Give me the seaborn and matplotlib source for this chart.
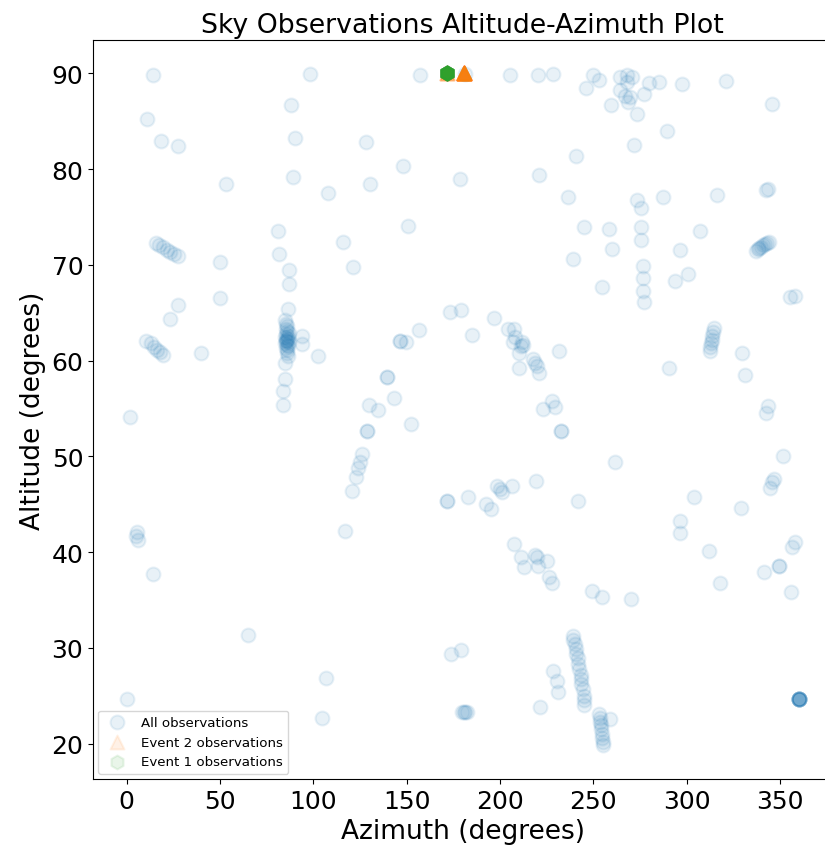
import numpy as np
import pandas as pd
import seaborn as sns
import matplotlib
matplotlib.use("Agg")
import matplotlib.pyplot as plt

# ---- observation positions (azimuth, altitude in degrees) ----
azimuth = [
    13.9, 98.4, 157.3, 181.4, 205.5, 220.4, 228.5,
    249.9, 253.1, 246.1,
    264.5, 268.3, 270.9, 268.3, 264.5,
    279.8, 285.2, 297.5, 277.2, 267.0, 269.7, 268.6, 259.5, 273.4, 289.5, 271.8,
    321.0, 345.6,
    88.3, 10.7, 90.4, 18.7, 27.3, 128.4, 240.8,
    53.0, 89.4, 108.1, 130.5, 148.2, 178.7, 221.0, 236.5, 273.4, 275.5, 287.3, 316.2, 342.4, 343.5,
    307.1,
    337.0, 338.0, 339.0, 340.0, 341.0, 342.0, 343.0, 344.0,
    300.5,
    312.3, 312.6, 313.0, 313.4, 313.8, 314.3, 314.8,
    329.6, 355.3, 358.0,
    331.2, 342.4, 343.5, 351.5, 344.6, 345.6, 346.7, 329.0, 358.0, 356.3, 311.9, 317.8, 341.4, 349.4, 349.4, 355.8,
    360.0, 360.0, 360.0, 360.0, 360.0, 360.0, 360.0, 360.0, 360.0,
    258.4, 260.0, 275.5, 275.5, 296.4, 293.7, 276.6, 276.6, 276.6, 277.2, 254.7, 245.0, 239.1, 290.5, 231.4,
    196.9, 204.4, 207.6, 208.1, 207.1, 211.9, 212.4, 211.3, 210.3, 217.8, 218.8, 219.9, 221.0, 210.3,
    227.9, 229.5, 223.1, 232.7, 232.7,
    198.5, 200.1, 201.2, 206.5, 192.6, 195.3, 241.8, 219.4, 207.6, 211.3, 212.9, 218.8, 220.0, 220.4,
    225.3, 226.3, 227.9, 261.6, 249.3, 254.7, 270.2, 303.9, 296.4, 296.4,
    238.9, 239.4, 240.0, 240.5, 241.0, 241.6, 242.1, 242.6, 243.2, 243.7, 243.7, 244.3, 244.8, 245.3, 245.3,
    253.1, 253.6, 253.6, 254.1, 254.1, 254.7, 254.7, 255.2, 255.2,
    259.0, 228.5, 230.6, 231.1, 221.5,
    179.5, 180.9, 182.5, 181.5, 173.9, 179.2, 0.0, 104.9, 107.0, 65.3, 13.9, 4.8, 5.9, 5.4, 2.1,
    10.2, 12.9, 14.5, 16.1, 17.7, 19.3,
    27.3, 23.5,
    15.5, 17.5, 19.5, 21.5, 23.5, 25.5, 27.5,
    40.1, 50.3, 49.8,
    81.3, 81.9, 87.2, 87.2, 86.7,
    85.0, 85.6, 86.2, 85.2, 86.0, 86.8, 85.4, 86.3, 85.0, 85.8, 86.6,
    85.3, 86.1, 85.6, 86.9, 85.1, 85.9, 86.5, 85.4, 86.2, 85.7, 86.4,
    94.2, 94.2, 102.7, 85.1, 85.1, 84.0, 84.0,
    116.1, 121.5, 150.9,
    146.6, 146.6, 149.8, 156.8, 173.4, 179.2, 185.1, 139.6, 139.6, 143.4, 152.5, 130.0, 134.8,
    128.9, 128.9, 126.3, 125.2, 124.1, 123.1, 120.9, 117.2, 171.7, 171.7, 183.0,
]
altitude = [
    89.8, 89.9, 89.8, 89.9, 89.8, 89.8, 89.9,
    89.8, 89.3, 88.5,
    89.6, 89.8, 89.6, 89.1, 88.3,
    89.0, 89.1, 88.9, 87.9, 87.6, 87.5, 87.0, 86.7, 85.8, 84.0, 82.5,
    89.2, 86.8,
    86.7, 85.2, 83.3, 82.9, 82.4, 82.8, 81.4,
    78.4, 79.2, 77.5, 78.4, 80.3, 79.0, 79.4, 77.1, 76.8, 75.9, 77.1, 77.3, 77.8, 77.9,
    73.5,
    71.5, 71.7, 71.8, 71.9, 72.1, 72.2, 72.3, 72.4,
    69.0,
    61.0, 61.4, 61.8, 62.2, 62.6, 63.0, 63.4,
    60.8, 66.7, 66.8,
    58.5, 54.5, 55.3, 50.0, 46.7, 47.3, 47.6, 44.6, 41.1, 40.5, 40.1, 36.8, 37.9, 38.6, 38.6, 35.8,
    24.7, 24.7, 24.7, 24.7, 24.7, 24.7, 24.7, 24.7, 24.7,
    73.8, 71.7, 72.6, 74.0, 71.6, 68.3, 69.9, 68.6, 67.3, 66.1, 67.7, 74.0, 70.6, 59.2, 61.0,
    64.5, 63.3, 63.3, 62.5, 61.9, 61.9, 61.6, 61.5, 60.8, 60.2, 59.8, 59.4, 58.75, 59.2,
    55.8, 55.2, 54.9, 52.6, 52.6,
    46.9, 46.6, 46.3, 46.9, 45.0, 44.5, 45.3, 47.4, 40.8, 39.5, 38.4, 39.7, 39.5, 38.5,
    39.1, 37.4, 36.8, 49.4, 35.9, 35.3, 35.1, 45.8, 43.3, 42.0,
    31.2, 30.8, 30.4, 29.9, 29.4, 28.9, 28.3, 27.8, 27.2, 26.7, 26.2, 25.7, 25.0, 24.5, 24.0,
    23.1, 22.7, 22.3, 21.9, 21.5, 21.0, 20.6, 20.2, 19.8,
    22.6, 27.6, 26.5, 25.4, 23.8,
    23.3, 23.3, 23.3, 23.3, 29.4, 29.8, 24.7, 22.7, 26.9, 31.3, 37.7, 41.7, 41.25, 42.1, 54.1,
    62.0, 61.8, 61.4, 61.1, 60.9, 60.6,
    65.8, 64.4,
    72.3, 72.1, 71.9, 71.6, 71.4, 71.1, 70.9,
    60.8, 70.3, 66.5,
    73.5, 71.1, 69.5, 68.0, 65.4,
    64.2, 63.8, 63.6, 63.3, 63.1, 62.9, 62.8, 62.6, 62.5, 62.4, 62.3,
    62.2, 62.1, 62.0, 61.9, 61.8, 61.6, 61.5, 61.3, 61.1, 60.8, 60.5,
    62.6, 61.7, 60.5, 59.8, 58.1, 56.8, 55.4,
    72.4, 69.8, 74.1,
    62.1, 62.1, 61.9, 63.2, 65.1, 65.3, 62.7, 58.3, 58.3, 56.1, 53.4, 55.4, 54.8,
    52.6, 52.6, 50.2, 49.4, 48.75, 47.8, 46.4, 42.2, 45.3, 45.3, 45.8,
]

# ---- event observations: position and number of repeated sightings ----
event2_azimuth = [181.0, 171.5]
event2_altitude = [90.0, 90.0]
event2_counts = [30, 6]

event1_azimuth = [171.5]
event1_altitude = [90.0]
event1_counts = [30]

all_obs = pd.DataFrame({"Azimuth": azimuth, "Altitude": altitude})
event2 = pd.DataFrame({
    "Azimuth": np.repeat(event2_azimuth, event2_counts),
    "Altitude": np.repeat(event2_altitude, event2_counts),
})
event1 = pd.DataFrame({
    "Azimuth": np.repeat(event1_azimuth, event1_counts),
    "Altitude": np.repeat(event1_altitude, event1_counts),
})

fig = plt.figure(figsize=(8.25, 8.53), dpi=100)
# the plotting area runs slightly past the right edge of the canvas
ax = fig.add_axes([0.1127, 0.0856, 0.896, 0.8664])

common = dict(s=100, alpha=0.1, edgecolor="face", linewidth=1.5, ax=ax)
sns.scatterplot(data=all_obs, x="Azimuth", y="Altitude", marker="o",
                color="#1f77b4", label="All observations", **common)
sns.scatterplot(data=event2, x="Azimuth", y="Altitude", marker="^",
                color="#ff7f0e", label="Event 2 observations", **common)
sns.scatterplot(data=event1, x="Azimuth", y="Altitude", marker="h",
                color="#2ca02c", label="Event 1 observations", **common)

ax.set_xlim(-18, 378)
ax.set_ylim(16.3, 93.5)
ax.set_xticks([0, 50, 100, 150, 200, 250, 300, 350])
ax.set_yticks([20, 30, 40, 50, 60, 70, 80, 90])
ax.tick_params(labelsize=18)
ax.set_xlabel("Azimuth (degrees)", fontsize=19)
ax.set_ylabel("Altitude (degrees)", fontsize=19)
ax.set_title("Sky Observations Altitude-Azimuth Plot", fontsize=19.3)
ax.legend(loc="lower left", fontsize=9.6, borderaxespad=0.4)

fig.savefig("out.png", dpi=100)
